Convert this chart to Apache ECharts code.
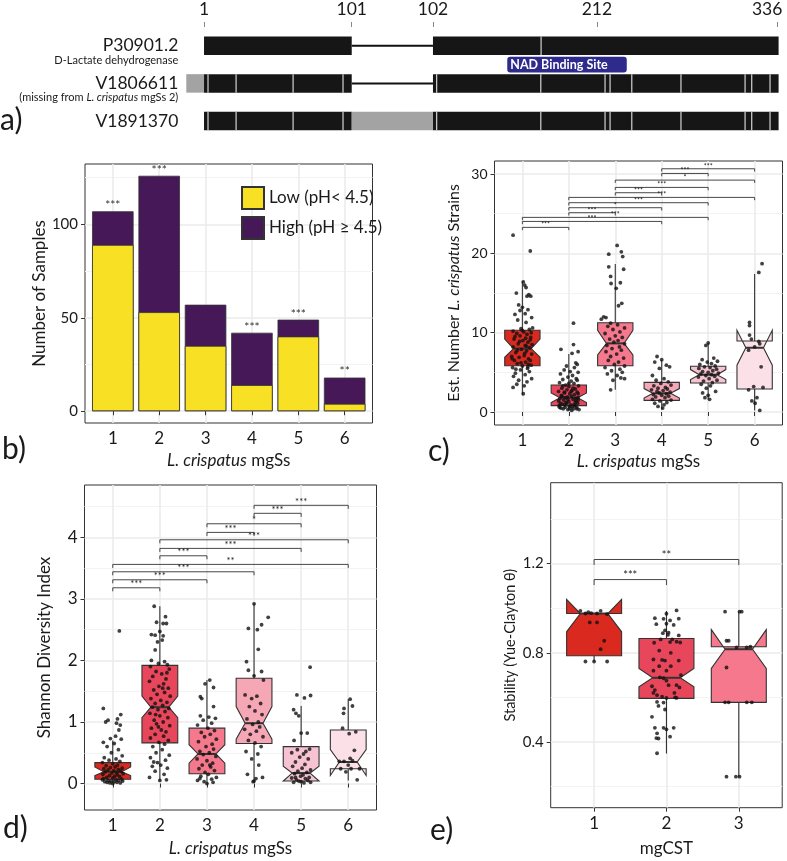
<!DOCTYPE html>
<html><head><meta charset="utf-8">
<script src="https://cdn.jsdelivr.net/npm/echarts@6/dist/echarts.min.js"></script>
<style>html,body{margin:0;padding:0;background:#fff}#c{width:787px;height:861px}</style>
</head><body><div id="c"></div>
<script>
// ================= DATA =================
// Panel a: alignment schematic (alignment column coordinates)
const alnTickPos = [0, 100, 155, 266, 388];
const alnTickLabels = ['1', '101', '102', '212', '336'];
const seqRows = ['P30901.2', 'V1806611', 'V1891370'];
const seqRowNotes = ['D-Lactate dehydrogenase', '(missing from |L. crispatus| mgSs 2)', ''];
const seqBlack = [[0, 100, 0], [155, 389, 0], [0, 100, 1], [155, 389, 1], [0, 100, 2], [155, 389, 2]];
const seqGray = [[-12, 0, 1], [100, 155, 2]];
const seqGaps = [[100, 155, 0], [100, 155, 1]];
const seqDividerRow0 = [228.2];
const seqDividerRows12 = [2.7, 21.7, 60.3, 94.1, 157.5, 228, 271.5, 274.9, 289.6, 322.9, 366.3, 370.8, 383.2];
const nadSite = [205.3, 286.2];
const nadLabel = 'NAD Binding Site';

// Panel b
const mgSsCats = [1, 2, 3, 4, 5, 6];
const lowPH = [89, 53, 35, 14, 40, 4];
const highPH = [18, 73, 22, 28, 9, 14];
const starsB = ['***', '***', '', '***', '***', '**'];
const legendNames = ['Low (pH< 4.5)', 'High (pH \u2265 4.5)'];

// Panel c: Est. number of L. crispatus strains (notched box stats)
const cQ1 = [5.84, 0.8, 5.84, 1.47, 3.66, 2.9];
const cMed = [8.0, 1.8, 8.65, 2.35, 4.7, 8.1];
const cQ3 = [10.3, 3.4, 11.26, 3.74, 5.76, 8.95];
const cNotchLo = [6.9, 1.2, 7.2, 1.75, 4.1, 5.9];
const cNotchHi = [9.2, 2.4, 10.3, 2.95, 5.35, 10.3];
const cLo = [2.1, 0.2, 2.8, 0.3, 1.6, 0.2];
const cHi = [16.5, 7.3, 18.65, 6.55, 8.7, 17.4];
const cBrackets = [[4,6,30.67],[4,5,30.08],[3,6,29.24],[3,5,28.32],[3,4,27.65],[2,6,27.06],[2,5,26.39],[2,4,25.76],[2,3,25.13],[1,5,24.54],[1,4,24.03],[1,2,23.28]];
const cBracketLabels = ['***','***','*','***','***','***','***','*','***','***','***','***'];
const cPoints = [
 [[-0.2,22.3],[0.17,20.3],[0.02,16.4],[0.05,16.0],[0.08,15.7],[-0.13,15.0],[0.14,14.8],[0.18,14.6],[0.1,14.6],[-0.08,13.5],[0.0,13.2],[0.12,12.9],[-0.05,12.8],[0.06,12.4],[-0.16,12.3],[0.2,11.9],[-0.1,11.6],[0.08,11.3],[0.22,10.6],[0.15,10.4],[-0.2,10.2],[0.03,10.1],[-0.12,9.9],[0.1,9.8],[-0.05,9.6],[0.18,9.4],[-0.18,9.2],[0.01,9.0],[0.12,8.8],[-0.09,8.6],[0.06,8.4],[-0.2,8.2],[0.16,8.1],[-0.02,7.9],[0.09,7.7],[-0.14,7.5],[0.2,7.3],[0.04,7.1],[-0.07,6.9],[0.13,6.7],[-0.17,6.5],[0.07,6.3],[-0.11,6.1],[0.19,5.9],[0.0,5.8],[-0.21,5.6],[0.11,5.5],[-0.04,5.3],[0.15,5.1],[-0.15,4.9],[0.06,4.7],[-0.19,4.5],[0.2,4.2],[-0.08,4.0],[0.1,3.8],[-0.12,3.5],[0.04,3.3],[-0.2,3.1],[0.02,2.3],[0.17,9.1],[-0.03,10.5],[0.21,8.5],[-0.23,7.0],[0.13,6.0],[-0.06,8.9],[0.19,10.0],[-0.16,9.5],[0.09,8.3],[-0.11,7.8],[0.05,7.4],[-0.22,6.7],[0.17,6.5],[-0.03,6.2],[0.12,5.7],[-0.14,5.4],[0.0,10.3],[0.07,9.3]],
 [[0.1,11.2],[0.1,8.5],[-0.17,7.9],[0.2,7.6],[0.07,7.4],[0.15,6.2],[0.18,6.0],[-0.05,5.8],[0.12,5.6],[-0.1,5.3],[0.03,5.1],[0.2,5.0],[-0.18,4.8],[0.08,4.6],[-0.02,4.4],[0.16,4.2],[-0.13,4.1],[0.05,3.9],[-0.2,3.7],[0.11,3.6],[-0.07,3.4],[0.21,3.3],[0.0,3.2],[-0.15,3.0],[0.14,2.9],[-0.04,2.8],[0.07,2.7],[-0.22,2.6],[0.18,2.5],[-0.09,2.4],[0.02,2.3],[0.12,2.2],[-0.16,2.1],[0.06,2.0],[-0.03,1.9],[0.2,1.8],[-0.19,1.7],[0.09,1.6],[-0.11,1.5],[0.15,1.4],[0.0,1.3],[-0.06,1.2],[0.19,1.1],[-0.14,1.0],[0.04,0.9],[0.13,0.8],[-0.21,0.8],[0.08,0.7],[-0.08,0.6],[0.17,0.6],[-0.17,0.5],[0.03,0.5],[0.1,0.4],[-0.12,0.4],[0.22,0.3],[-0.02,0.3],[0.06,0.2],[-0.2,0.6],[0.15,1.7],[-0.1,2.5],[0.0,3.6],[0.2,2.3],[-0.05,1.1],[0.11,0.9],[-0.22,1.4],[0.05,2.6],[-0.13,3.3],[0.18,4.0],[-0.08,1.8],[0.14,1.2],[-0.18,1.1],[0.01,0.7],[-0.09,0.9],[0.2,1.5],[-0.15,2.0],[0.09,3.0],[-0.02,1.6],[0.17,0.4]],
 [[0.04,21.0],[0.13,20.2],[-0.14,19.9],[0.16,19.6],[0.18,18.0],[-0.14,18.3],[-0.1,17.1],[-0.09,16.2],[0.11,16.3],[0.02,15.6],[0.14,13.7],[0.07,13.4],[-0.25,12.0],[-0.3,11.7],[-0.2,11.9],[-0.1,11.2],[0.05,11.0],[-0.16,10.8],[0.2,10.6],[-0.05,10.4],[0.1,10.1],[-0.22,9.9],[0.0,9.6],[0.15,9.4],[-0.12,9.2],[0.06,9.0],[-0.03,8.8],[0.2,8.6],[-0.18,8.4],[0.09,8.2],[-0.07,8.0],[0.13,7.8],[-0.2,7.6],[0.03,7.3],[-0.1,7.0],[0.18,6.8],[-0.15,6.5],[0.07,6.3],[-0.02,6.0],[0.2,5.8],[-0.22,5.6],[0.1,5.4],[-0.08,5.2],[0.15,5.0],[-0.17,4.8],[0.04,4.6],[0.12,4.3],[-0.05,4.0],[0.2,4.2],[-0.1,2.8]],
 [[-0.1,7.0],[0.0,6.6],[-0.15,6.3],[0.1,5.9],[0.17,5.7],[-0.05,5.5],[-0.2,4.6],[0.05,4.2],[-0.12,4.0],[0.14,3.8],[-0.02,3.6],[0.2,3.4],[-0.17,3.3],[0.08,3.1],[-0.08,3.0],[0.12,2.9],[-0.22,2.8],[0.03,2.7],[-0.1,2.6],[0.18,2.5],[-0.05,2.4],[0.1,2.3],[-0.18,2.2],[0.0,2.1],[0.15,2.0],[-0.13,1.9],[0.07,1.8],[-0.2,1.6],[0.2,1.5],[-0.04,1.4],[0.11,1.2],[-0.15,1.1],[0.05,0.9],[-0.08,0.7],[0.02,0.5]],
 [[0.0,8.7],[-0.05,8.4],[0.12,6.8],[-0.13,6.6],[0.2,6.4],[-0.02,6.3],[0.07,6.1],[-0.18,6.0],[0.15,5.8],[-0.08,5.7],[0.04,5.6],[-0.2,5.5],[0.18,5.4],[0.1,5.2],[-0.12,5.1],[0.0,5.0],[0.22,4.9],[-0.16,4.8],[0.07,4.7],[-0.05,4.6],[0.14,4.5],[-0.21,4.4],[0.02,4.2],[0.19,4.0],[-0.1,3.9],[0.09,3.7],[-0.15,3.5],[0.05,3.3],[-0.04,3.0],[0.16,2.6],[-0.12,2.4],[0.0,2.1],[-0.07,1.8],[0.03,1.6]],
 [[0.16,18.7],[0.09,17.6],[-0.11,11.3],[-0.11,10.9],[-0.11,9.7],[-0.07,9.2],[0.09,8.9],[0.11,8.6],[0.0,8.2],[-0.13,7.8],[0.14,5.7],[-0.02,3.2],[0.18,3.1],[-0.13,2.8],[0.05,1.8],[-0.06,1.4],[0.01,1.1],[0.11,0.2]]
];

// Panel d: Shannon diversity index
const dQ1 = [0.07, 0.66, 0.16, 0.65, 0.04, 0.24];
const dMed = [0.19, 1.24, 0.48, 0.98, 0.17, 0.35];
const dQ3 = [0.34, 1.92, 0.9, 1.71, 0.6, 0.87];
const dNotchLo = [0.13, 1.07, 0.33, 0.72, 0.04, 0.13];
const dNotchHi = [0.27, 1.42, 0.63, 1.25, 0.28, 0.55];
const dLo = [0.0, 0.05, 0.0, 0.02, 0.0, 0.05];
const dHi = [0.7, 2.88, 1.68, 2.92, 1.26, 1.37];
const dBrackets = [[4,6,4.52],[4,5,4.39],[3,5,4.22],[3,4,4.08],[2,6,3.96],[2,5,3.82],[2,3,3.70],[1,6,3.56],[1,4,3.44],[1,3,3.31],[1,2,3.18]];
const dBracketLabels = ['***','***','*','***','***','***','***','**','***','***','***'];
const dPoints = [
 [[0.14,2.48],[-0.2,1.22],[0.17,1.12],[0.1,1.05],[-0.1,1.03],[-0.15,1.0],[0.08,0.98],[0.16,0.95],[0.13,0.87],[0.06,0.77],[-0.05,0.73],[0.18,0.72],[-0.2,0.67],[0.03,0.65],[-0.12,0.6],[0.12,0.55],[-0.03,0.5],[0.2,0.45],[-0.18,0.42],[0.07,0.4],[-0.08,0.38],[0.15,0.36],[-0.22,0.34],[0.0,0.32],[0.1,0.3],[-0.14,0.29],[0.05,0.27],[-0.05,0.26],[0.2,0.25],[-0.19,0.24],[0.12,0.23],[-0.1,0.22],[0.02,0.21],[0.17,0.2],[-0.16,0.19],[0.08,0.18],[-0.02,0.17],[0.22,0.16],[-0.21,0.15],[0.1,0.14],[-0.07,0.13],[0.04,0.12],[0.15,0.11],[-0.13,0.1],[0.0,0.09],[-0.2,0.08],[0.19,0.07],[0.07,0.06],[-0.1,0.05],[0.12,0.05],[-0.04,0.04],[0.21,0.04],[-0.17,0.03],[0.03,0.03],[0.09,0.02],[-0.12,0.02],[0.16,0.01],[-0.06,0.01],[0.0,0.0],[-0.22,0.06]],
 [[-0.12,2.88],[0.12,2.71],[-0.07,2.62],[0.07,2.6],[0.14,2.6],[0.0,2.47],[-0.18,2.42],[-0.1,2.41],[0.07,2.4],[0.05,2.33],[-0.05,2.3],[-0.1,2.17],[-0.18,2.0],[0.1,1.98],[-0.03,1.95],[0.16,1.93],[-0.2,1.9],[0.2,1.86],[-0.08,1.82],[0.04,1.78],[-0.15,1.74],[0.13,1.7],[-0.22,1.66],[0.08,1.62],[-0.02,1.58],[0.18,1.55],[-0.13,1.52],[0.1,1.48],[-0.06,1.45],[0.22,1.42],[-0.19,1.38],[0.02,1.35],[0.15,1.32],[-0.1,1.3],[0.06,1.27],[-0.16,1.24],[0.19,1.22],[-0.04,1.2],[0.11,1.17],[-0.21,1.14],[0.0,1.1],[0.17,1.07],[-0.12,1.03],[0.07,1.0],[-0.07,0.97],[0.21,0.94],[-0.18,0.9],[0.03,0.87],[0.13,0.84],[-0.1,0.8],[0.08,0.77],[-0.2,0.74],[0.18,0.7],[-0.02,0.67],[0.1,0.64],[-0.15,0.6],[0.05,0.55],[-0.08,0.5],[0.2,0.46],[-0.2,0.42],[0.12,0.38],[-0.05,0.34],[0.02,0.3],[-0.16,0.28],[0.16,0.25],[-0.1,0.2],[0.09,0.15],[-0.22,0.1],[0.14,0.06],[0.0,0.05],[-0.13,0.35],[0.06,1.55],[-0.09,1.12],[0.15,1.8],[-0.03,0.92]],
 [[0.06,1.68],[-0.04,1.62],[0.14,1.56],[-0.14,1.41],[-0.11,1.38],[0.14,1.25],[-0.14,1.1],[0.04,1.08],[0.18,1.06],[-0.08,1.03],[0.1,0.98],[-0.2,0.95],[0.02,0.9],[0.16,0.86],[-0.12,0.83],[0.07,0.8],[-0.05,0.76],[0.2,0.72],[-0.18,0.68],[0.11,0.64],[-0.02,0.6],[0.14,0.56],[-0.15,0.52],[0.05,0.5],[-0.08,0.47],[0.19,0.44],[-0.21,0.4],[0.0,0.37],[0.12,0.33],[-0.1,0.3],[0.08,0.27],[-0.17,0.24],[0.16,0.21],[-0.04,0.18],[0.03,0.15],[-0.13,0.12],[0.2,0.1],[0.1,0.07],[-0.2,0.05],[-0.06,0.03],[0.13,0.02],[0.0,0.0],[-0.15,0.08],[0.06,0.3]],
 [[0.0,2.92],[0.3,2.7],[0.16,2.58],[-0.12,2.52],[0.07,2.5],[0.09,2.18],[-0.16,1.98],[-0.12,1.84],[0.16,1.82],[0.0,1.75],[0.2,1.68],[-0.19,1.44],[0.06,1.42],[-0.05,1.38],[0.14,1.3],[-0.1,1.25],[0.02,1.18],[0.17,1.12],[-0.15,1.05],[0.09,1.0],[-0.03,0.96],[0.12,0.92],[-0.2,0.88],[0.05,0.85],[-0.08,0.8],[0.19,0.76],[-0.12,0.7],[0.02,0.66],[0.15,0.6],[-0.17,0.52],[0.08,0.48],[-0.05,0.4],[0.1,0.3],[-0.14,0.15],[0.04,0.08],[-0.02,0.03],[0.18,0.1],[0.0,0.04]],
 [[0.19,1.89],[-0.09,1.44],[0.2,1.43],[0.07,1.39],[-0.16,1.2],[-0.11,1.14],[-0.05,1.1],[0.0,0.82],[0.13,0.82],[-0.15,0.7],[0.18,0.56],[-0.08,0.55],[0.1,0.52],[-0.2,0.5],[0.05,0.48],[-0.03,0.43],[0.15,0.4],[-0.12,0.35],[0.08,0.31],[-0.18,0.28],[0.02,0.25],[0.2,0.22],[-0.07,0.2],[0.12,0.18],[-0.14,0.16],[0.04,0.14],[-0.01,0.12],[0.17,0.1],[-0.2,0.09],[0.09,0.08],[-0.1,0.06],[0.14,0.05],[-0.05,0.04],[0.0,0.03],[0.2,0.02],[-0.16,0.02],[0.06,0.01],[-0.12,0.1]],
 [[0.04,1.37],[-0.09,1.22],[0.09,1.26],[-0.1,1.14],[-0.12,0.9],[0.02,0.81],[0.16,0.84],[0.13,0.54],[0.04,0.41],[-0.09,0.36],[-0.19,0.36],[0.09,0.37],[-0.16,0.24],[0.06,0.24],[0.24,0.24],[-0.05,0.19],[0.19,0.06],[0.0,0.3]]
];

// Panel e: stability by mgCST
const mgCSTCats = [1, 2, 3];
const eQ1 = [0.787, 0.596, 0.578];
const eMed = [0.976, 0.688, 0.816];
const eQ3 = [0.976, 0.864, 0.827];
const eNotchLo = [0.894, 0.648, 0.73];
const eNotchHi = [1.039, 0.73, 0.904];
const eLo = [0.761, 0.349, 0.245];
const eHi = [0.976, 0.987, 0.984];
const eBrackets = [[1,2,1.128],[1,3,1.218]];
const eBracketLabels = ['***', '**'];
const ePoints = [
 [[-0.19,0.988],[-0.12,0.976],[-0.04,0.978],[0.04,0.976],[0.09,0.988],[0.18,0.973],[-0.06,0.936],[0.04,0.936],[0.14,0.854],[0.09,0.816],[-0.12,0.761],[0.0,0.761],[0.18,0.761],[-0.08,0.982]],
 [[0.14,0.99],[0.0,0.975],[0.17,0.953],[-0.16,0.955],[-0.04,0.952],[0.05,0.945],[0.0,0.93],[0.1,0.925],[-0.14,0.928],[-0.02,0.9],[0.03,0.89],[-0.05,0.888],[0.17,0.878],[0.14,0.85],[0.05,0.848],[0.19,0.846],[-0.17,0.845],[-0.1,0.81],[-0.18,0.77],[-0.06,0.768],[-0.02,0.765],[0.17,0.765],[0.06,0.74],[0.0,0.72],[-0.18,0.72],[-0.09,0.69],[-0.04,0.686],[0.0,0.675],[0.03,0.655],[0.14,0.655],[0.18,0.645],[-0.16,0.633],[-0.18,0.62],[-0.13,0.61],[-0.06,0.603],[0.0,0.598],[0.14,0.598],[-0.13,0.58],[-0.04,0.577],[-0.11,0.562],[-0.02,0.546],[-0.2,0.513],[-0.16,0.464],[-0.04,0.464],[0.0,0.457],[0.1,0.464],[-0.13,0.439],[0.05,0.424],[-0.14,0.418],[-0.11,0.416],[-0.13,0.35],[0.08,0.86],[-0.08,0.86],[0.11,0.62],[0.2,0.7],[-0.2,0.65],[0.06,0.8],[-0.1,0.74],[0.12,0.6],[0.02,0.88]],
 [[-0.19,0.984],[0.01,0.984],[0.04,0.984],[-0.17,0.854],[-0.14,0.854],[-0.03,0.824],[0.11,0.824],[0.16,0.828],[-0.17,0.734],[-0.19,0.578],[-0.14,0.578],[0.11,0.578],[0.18,0.578],[-0.17,0.245],[-0.04,0.245],[0.01,0.245]]
];

// Axis tick values
const bTicks = [0, 50, 100], bMinor = [25, 75, 125];
const cTicks = [0, 10, 20, 30], cMinor = [5, 15, 25];
const dTicks = [0, 1, 2, 3, 4], dMinor = [0.5, 1.5, 2.5, 3.5, 4.5];
const eTicks = [0.4, 0.8, 1.2], eMinor = [0.2, 0.6, 1.0, 1.4];

// ================= STYLE / BUILD =================
const FONT = 'Lato, "Open Sans", "DejaVu Sans", sans-serif';
const TXT = '#1a1a1a';
const FRAME = '#333333';
const GRIDMAJ = '#ebebeb', GRIDMIN = '#f3f3f3';
const boxColors = ['#DA2A1F', '#E8465B', '#F5788C', '#F6A7B6', '#F7C3D3', '#FCE0E8'];

function boxData(cats, q1, md, q3, nl, nh, lo, hi) {
  return cats.map((c, i) => [c, q1[i], md[i], q3[i], nl[i], nh[i], lo[i], hi[i]]);
}
function jitterData(cats, pts) {
  const out = [];
  pts.forEach((g, i) => g.forEach(p => out.push([cats[i] + p[0], p[1]])));
  return out;
}
function boxRenderer(colors, bw) {
  return function (params, api) {
    const x = api.value(0);
    const Y = v => api.coord([x, v])[1];
    const cx = api.coord([x, api.value(2)])[0];
    const w = api.size([bw, 0])[0];
    const q1 = Y(api.value(1)), md = Y(api.value(2)), q3 = Y(api.value(3));
    const nl = Y(api.value(4)), nh = Y(api.value(5)), lo = Y(api.value(6)), hi = Y(api.value(7));
    const xl = cx - w / 2, xr = cx + w / 2, ind = w * 0.25;
    return {type: 'group', children: [
      {type: 'line', shape: {x1: cx, y1: q3, x2: cx, y2: hi}, style: {stroke: FRAME, lineWidth: 1.1}},
      {type: 'line', shape: {x1: cx, y1: q1, x2: cx, y2: lo}, style: {stroke: FRAME, lineWidth: 1.1}},
      {type: 'polygon', shape: {points: [[xl, q3], [xl, nh], [xl + ind, md], [xl, nl], [xl, q1], [xr, q1], [xr, nl], [xr - ind, md], [xr, nh], [xr, q3]]},
        style: {fill: colors[params.dataIndex], stroke: FRAME, lineWidth: 1.1}},
      {type: 'line', shape: {x1: xl + ind, y1: md, x2: xr - ind, y2: md}, style: {stroke: FRAME, lineWidth: 2}}
    ]};
  };
}
function bracketRenderer(labels, tick, fs) {
  return function (params, api) {
    const a = api.coord([api.value(0), api.value(2)]);
    const b = api.coord([api.value(1), api.value(2)]);
    return {type: 'group', children: [
      {type: 'polyline', shape: {points: [[a[0], a[1] + tick], a, b, [b[0], b[1] + tick]]},
        style: {stroke: '#333', lineWidth: 0.9, fill: null}},
      {type: 'text', x: (a[0] + b[0]) / 2, y: a[1] + fs * 0.15,
        style: {text: labels[params.dataIndex], fontSize: fs, fontFamily: FONT, fill: '#222', align: 'center', verticalAlign: 'bottom'}}
    ]};
  };
}
function valueAxis(gridIndex, min, max, ticks, fs, extra) {
  return Object.assign({
    type: 'value', gridIndex, min, max,
    axisLine: {show: false},
    axisTick: {show: true, customValues: ticks, length: 4, lineStyle: {color: FRAME, width: 1}},
    axisLabel: {customValues: ticks, fontSize: fs, color: TXT, fontFamily: FONT, margin: 7},
    splitLine: {show: true, lineStyle: {color: GRIDMAJ, width: 1.6}},
    nameTextStyle: {fontFamily: FONT, color: TXT, fontSize: 17, rich: {i: {fontStyle: 'italic', fontFamily: FONT, color: TXT, fontSize: 17}}}
  }, extra || {});
}
function minorAxis(gridIndex, min, max, minor) {
  return {type: 'value', gridIndex, min, max, axisLine: {show: false},
    axisTick: {show: false, customValues: minor}, axisLabel: {show: false},
    splitLine: {show: true, lineStyle: {color: GRIDMIN, width: 1}}};
}
function gridBox(left, top, width, height) {
  return {left, top, width, height, show: true, borderColor: FRAME, borderWidth: 1, backgroundColor: '#fff',
    containLabel: false, outerBoundsMode: 'none'};
}

const catTicks6 = mgSsCats;
const italicName = '{i|L. crispatus} mgSs';
// stacked tops (Low + High) for panel b
const totalPH = lowPH.map((v, i) => v + highPH[i]);

const option = {
  animation: false,
  backgroundColor: '#fff',
  textStyle: {fontFamily: FONT},
  grid: [
    {left: 186.3, top: 27, width: 592.3, height: 112.8, show: false, containLabel: false, outerBoundsMode: 'none'},
    gridBox(85, 164, 287.5, 259),
    gridBox(494.5, 161, 288, 264),
    gridBox(84.5, 485, 292, 325),
    gridBox(550.7, 482.7, 231.5, 325)
  ],
  legend: {
    data: legendNames, left: 241, top: 186, orient: 'vertical', icon: 'rect',
    itemWidth: 22, itemHeight: 22, itemGap: 6, padding: 0,
    textStyle: {fontSize: 17, color: TXT, fontFamily: FONT}
  },
  xAxis: [
    {type: 'value', gridIndex: 0, min: -12, max: 389, position: 'top',
      axisLine: {show: false}, splitLine: {show: false},
      axisTick: {show: true, customValues: alnTickPos, length: 5, lineStyle: {color: '#888', width: 1}},
      axisLabel: {customValues: alnTickPos, margin: 9, fontSize: 17.5, color: TXT, fontFamily: FONT,
        formatter: v => {
          const i = alnTickPos.indexOf(v);
          return i === alnTickPos.length - 1 ? '{r|' + alnTickLabels[i] + '}' : alnTickLabels[i];
        },
        rich: {r: {fontSize: 17.5, color: TXT, fontFamily: FONT, padding: [0, 20, 0, 0]}}}},
    valueAxis(1, 0.4, 6.6, catTicks6, 17, {name: italicName, nameLocation: 'middle', nameGap: 29}),
    valueAxis(2, 0.4, 6.6, catTicks6, 17, {name: italicName, nameLocation: 'middle', nameGap: 28}),
    valueAxis(3, 0.4, 6.6, catTicks6, 17, {name: italicName, nameLocation: 'middle', nameGap: 30}),
    valueAxis(4, 0.4, 3.6, mgCSTCats, 17, {name: 'mgCST', nameLocation: 'middle', nameGap: 32})
  ],
  yAxis: [
    {type: 'category', gridIndex: 0, data: seqRows, inverse: true,
      axisLine: {show: false}, axisTick: {show: false}, splitLine: {show: false},
      axisLabel: {interval: 0, hideOverlap: false, margin: 8, fontSize: 17.5, color: TXT, fontFamily: FONT,
        formatter: (v, i) => {
          const note = seqRowNotes[i];
          if (!note) return '{a|' + v + '}';
          const parts = note.split('|');
          const sub = parts.map((p, k) => '{' + (k % 2 ? 'bi' : 'b') + '|' + p + '}').join('');
          return '{s| }\n{a|' + v + '}\n' + sub;
        },
        rich: {
          s: {fontSize: 11, lineHeight: 11, align: 'right'},
          a: {fontSize: 17.5, lineHeight: 18, color: TXT, fontFamily: FONT, align: 'right'},
          b: {fontSize: 11, lineHeight: 12, color: TXT, fontFamily: FONT, align: 'right'},
          bi: {fontSize: 11, lineHeight: 12, color: TXT, fontFamily: FONT, fontStyle: 'italic', align: 'right'}
        }}},
    valueAxis(1, -6.3, 132.3, bTicks, 15, {name: 'Number of Samples', nameLocation: 'middle', nameGap: 37}),
    valueAxis(2, -1.64, 31.65, cTicks, 14, {name: 'Est. Number {i|L. crispatus} Strains', nameLocation: 'middle', nameGap: 33,
      nameTextStyle: {fontFamily: FONT, color: TXT, fontSize: 16, rich: {i: {fontStyle: 'italic', fontFamily: FONT, color: TXT, fontSize: 16}}}}),
    valueAxis(3, -0.43, 4.85, dTicks, 17, {name: 'Shannon Diversity Index', nameLocation: 'middle', nameGap: 31}),
    valueAxis(4, 0.106, 1.562, eTicks, 15, {name: 'Stability (Yue-Clayton \u03b8)', nameLocation: 'middle', nameGap: 33,
      nameTextStyle: {fontFamily: FONT, color: TXT, fontSize: 14.5}}),
    minorAxis(1, -6.3, 132.3, bMinor),
    minorAxis(2, -1.64, 31.65, cMinor),
    minorAxis(3, -0.43, 4.85, dMinor),
    minorAxis(4, 0.106, 1.562, eMinor)
  ],
  graphic: [
    {type: 'text', x: 0, y: 120, style: {text: 'a)', fontSize: 30, fontFamily: FONT, fill: TXT, verticalAlign: 'middle'}},
    {type: 'text', x: 2, y: 449, style: {text: 'b)', fontSize: 30, fontFamily: FONT, fill: TXT, verticalAlign: 'middle'}},
    {type: 'text', x: 428, y: 451, style: {text: 'c)', fontSize: 30, fontFamily: FONT, fill: TXT, verticalAlign: 'middle'}},
    {type: 'text', x: 3, y: 828, style: {text: 'd)', fontSize: 30, fontFamily: FONT, fill: TXT, verticalAlign: 'middle'}},
    {type: 'text', x: 430, y: 830, style: {text: 'e)', fontSize: 30, fontFamily: FONT, fill: TXT, verticalAlign: 'middle'}}
  ],
  series: [
    // ---- panel a ----
    {type: 'custom', xAxisIndex: 0, yAxisIndex: 0, data: seqGaps, encode: {x: [0, 1], y: 2}, silent: true,
      renderItem: (p, api) => {
        const a = api.coord([api.value(0), api.value(2)]), b = api.coord([api.value(1), api.value(2)]);
        return {type: 'line', shape: {x1: a[0], y1: a[1], x2: b[0], y2: b[1]}, style: {stroke: '#111', lineWidth: 2}};
      }},
    {type: 'custom', xAxisIndex: 0, yAxisIndex: 0, data: seqBlack, encode: {x: [0, 1], y: 2}, silent: true,
      renderItem: (p, api) => {
        const a = api.coord([api.value(0), api.value(2)]), b = api.coord([api.value(1), api.value(2)]);
        return {type: 'rect', shape: {x: a[0], y: a[1] - 9.25, width: b[0] - a[0], height: 18.5}, style: {fill: '#161616'}};
      }},
    {type: 'custom', xAxisIndex: 0, yAxisIndex: 0, data: seqGray, encode: {x: [0, 1], y: 2}, silent: true,
      renderItem: (p, api) => {
        const a = api.coord([api.value(0), api.value(2)]), b = api.coord([api.value(1), api.value(2)]);
        return {type: 'rect', shape: {x: a[0], y: a[1] - 9.25, width: b[0] - a[0], height: 18.5}, style: {fill: '#a3a3a3'}};
      }},
    {type: 'custom', xAxisIndex: 0, yAxisIndex: 0, silent: true, encode: {x: 0, y: 1},
      data: seqDividerRow0.map(v => [v, 0]).concat(seqDividerRows12.map(v => [v, 1]), seqDividerRows12.map(v => [v, 2])),
      renderItem: (p, api) => {
        const a = api.coord([api.value(0), api.value(1)]);
        return {type: 'line', shape: {x1: a[0], y1: a[1] - 9.25, x2: a[0], y2: a[1] + 9.25}, style: {stroke: '#d4d4d4', lineWidth: 1.2}};
      }},
    {type: 'custom', xAxisIndex: 0, yAxisIndex: 0, silent: true, encode: {x: [0, 1]}, data: [nadSite],
      renderItem: (p, api) => {
        const y0 = api.coord([api.value(0), 0])[1], y1 = api.coord([api.value(0), 1])[1];
        const xa = api.coord([api.value(0), 0])[0], xb = api.coord([api.value(1), 0])[0];
        const ym = (y0 + y1) / 2;
        return {type: 'group', children: [
          {type: 'rect', shape: {x: xa, y: ym - 7.8, width: xb - xa, height: 15.6, r: 3}, style: {fill: '#2E2B8C'}},
          {type: 'text', x: xa + 3, y: ym + 0.5, style: {text: nadLabel, fontSize: 12.5, fontWeight: 'bold', fontFamily: FONT, fill: '#fff', verticalAlign: 'middle', align: 'left'}}
        ]};
      }},
    // ---- panel b: High segment sits on top of Low (drawn as the stacked total, Low drawn over it) ----
    {name: legendNames[1], type: 'bar', xAxisIndex: 1, yAxisIndex: 1, barWidth: 41.5, barGap: '-100%',
      data: mgSsCats.map((c, i) => [c, totalPH[i]]),
      itemStyle: {color: '#461857', borderColor: '#333', borderWidth: 0.8},
      label: {show: true, position: 'top', distance: 0, formatter: p => starsB[p.dataIndex], fontSize: 12, color: '#333', fontFamily: FONT}},
    {name: legendNames[0], type: 'bar', xAxisIndex: 1, yAxisIndex: 1, barWidth: 41.5, barGap: '-100%',
      data: mgSsCats.map((c, i) => [c, lowPH[i]]),
      itemStyle: {color: '#F8E024', borderColor: '#333', borderWidth: 0.8}},
    // ---- panel c ----
    {type: 'custom', xAxisIndex: 2, yAxisIndex: 2, silent: true, encode: {x: 0, y: [1, 2, 3, 4, 5, 6, 7]},
      data: boxData(mgSsCats, cQ1, cMed, cQ3, cNotchLo, cNotchHi, cLo, cHi), renderItem: boxRenderer(boxColors, 0.76)},
    {type: 'scatter', xAxisIndex: 2, yAxisIndex: 2, silent: true, symbolSize: 3.8, itemStyle: {color: '#111'},
      data: jitterData(mgSsCats, cPoints), z: 5},
    {type: 'custom', xAxisIndex: 2, yAxisIndex: 2, silent: true, encode: {x: [0, 1], y: 2},
      data: cBrackets, renderItem: bracketRenderer(cBracketLabels, 2.8, 7)},
    // ---- panel d ----
    {type: 'custom', xAxisIndex: 3, yAxisIndex: 3, silent: true, encode: {x: 0, y: [1, 2, 3, 4, 5, 6, 7]},
      data: boxData(mgSsCats, dQ1, dMed, dQ3, dNotchLo, dNotchHi, dLo, dHi), renderItem: boxRenderer(boxColors, 0.76)},
    {type: 'scatter', xAxisIndex: 3, yAxisIndex: 3, silent: true, symbolSize: 3.8, itemStyle: {color: '#111'},
      data: jitterData(mgSsCats, dPoints), z: 5},
    {type: 'custom', xAxisIndex: 3, yAxisIndex: 3, silent: true, encode: {x: [0, 1], y: 2},
      data: dBrackets, renderItem: bracketRenderer(dBracketLabels, 3.5, 9.5)},
    // ---- panel e ----
    {type: 'custom', xAxisIndex: 4, yAxisIndex: 4, silent: true, encode: {x: 0, y: [1, 2, 3, 4, 5, 6, 7]},
      data: boxData(mgCSTCats, eQ1, eMed, eQ3, eNotchLo, eNotchHi, eLo, eHi), renderItem: boxRenderer(boxColors, 0.76)},
    {type: 'scatter', xAxisIndex: 4, yAxisIndex: 4, silent: true, symbolSize: 3.8, itemStyle: {color: '#111'},
      data: jitterData(mgCSTCats, ePoints), z: 5},
    {type: 'custom', xAxisIndex: 4, yAxisIndex: 4, silent: true, encode: {x: [0, 1], y: 2},
      data: eBrackets, renderItem: bracketRenderer(eBracketLabels, 5.5, 11)}
  ]
};

const chart = echarts.init(document.getElementById('c'), null, {renderer: 'canvas'});
chart.setOption(option);
</script></body></html>
